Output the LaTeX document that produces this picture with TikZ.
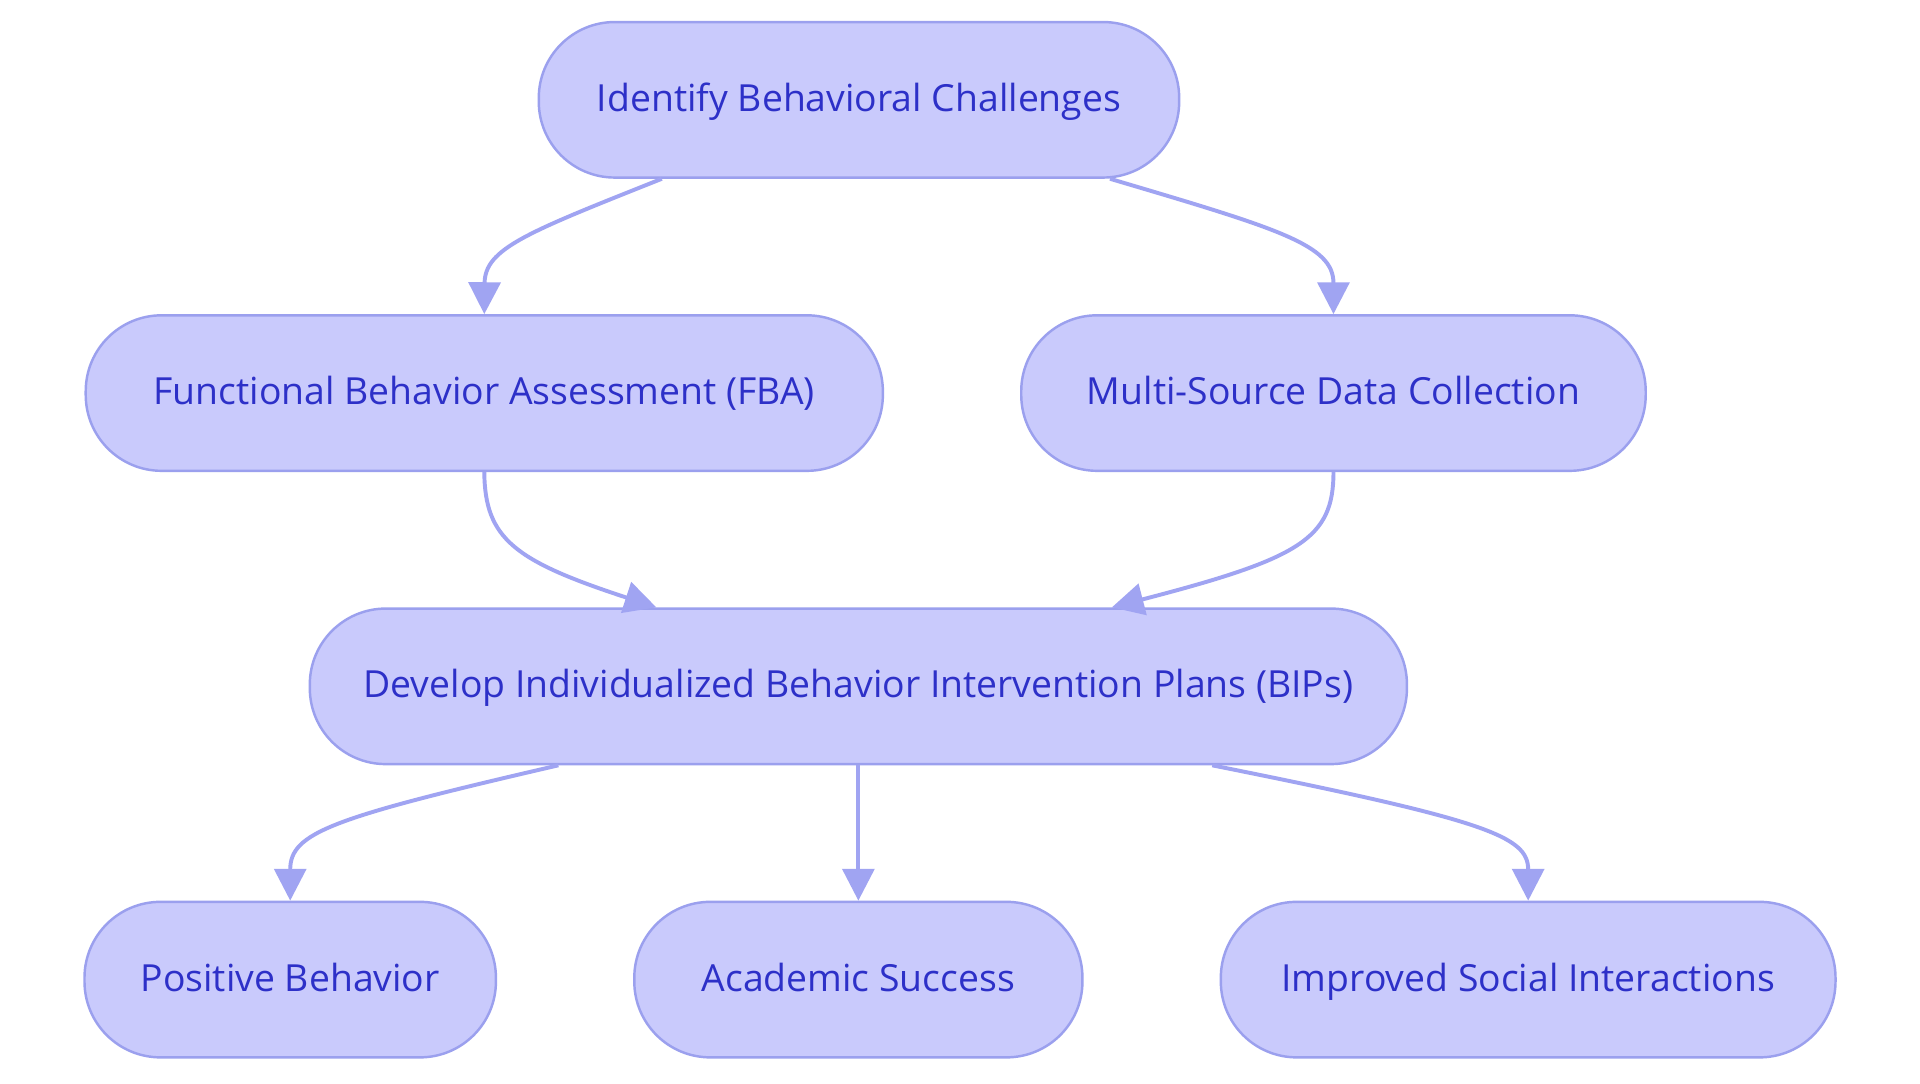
\documentclass[tikz,border=0pt]{standalone}
\usepackage{fontspec}
\setmainfont{Open Sans}
\usetikzlibrary{arrows.meta}
\definecolor{nodefill}{RGB}{201,202,252}
\definecolor{nodedraw}{RGB}{155,160,238}
\definecolor{nodetext}{RGB}{45,48,200}
\definecolor{edgecol}{RGB}{160,164,242}
\tikzset{
  box/.style={draw=nodedraw, line width=2pt, fill=nodefill, rounded corners=62pt,
    minimum height=127pt, text=nodetext, font=\fontsize{30.5}{36}\selectfont, inner sep=0pt,
    text height=25pt, text depth=6pt},
  edge/.style={draw=edgecol, line width=3.2pt, -{Triangle[length=26pt,width=26pt]}}
}
\begin{document}
\begin{tikzpicture}[x=1pt,y=-1pt]
\useasboundingbox[fill=white] (0,0) rectangle (1568,884.5);
\node[box, minimum width=523pt] (top) at (701.5,81.5) {Identify Behavioral Challenges};
\node[box, minimum width=651pt] (fba) at (395.5,321) {Functional Behavior Assessment (FBA)};
\node[box, minimum width=510pt] (msd) at (1089,321) {Multi-Source Data Collection};
\node[box, minimum width=896pt] (bip) at (701,560.5) {Develop Individualized Behavior Intervention Plans (BIPs)};
\node[box, minimum width=336pt] (pos) at (237,800) {Positive Behavior};
\node[box, minimum width=366pt] (aca) at (701,800) {Academic Success};
\node[box, minimum width=502pt] (soc) at (1248,800) {Improved Social Interactions};

\draw[edge] ([xshift=-161pt]top.south) .. controls (430,190) and (396,203) .. (fba.north);
\draw[edge] ([xshift=205pt]top.south) .. controls (1045,187) and (1089,200) .. (msd.north);
\draw[edge] (fba.south) .. controls (396,440) and (420,458) .. ([xshift=-165pt]bip.north);
\draw[edge] (msd.south) .. controls (1089,440) and (1062,456) .. ([xshift=207pt]bip.north);
\draw[edge] ([xshift=-245pt]bip.south) .. controls (270,668) and (237,680) .. (pos.north);
\draw[edge] (bip.south) -- (aca.north);
\draw[edge] ([xshift=289pt]bip.south) .. controls (1215,670) and (1248,683) .. (soc.north);
\end{tikzpicture}
\end{document}
